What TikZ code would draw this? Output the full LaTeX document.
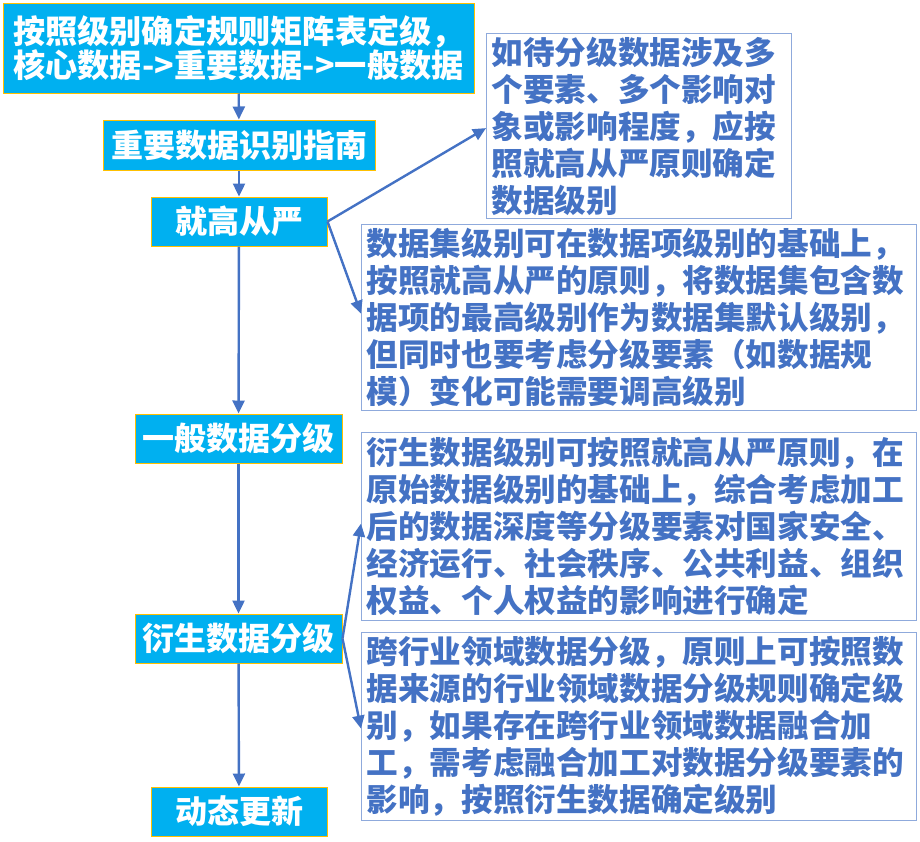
\documentclass[tikz,border=0pt]{standalone}
\usepackage{fontspec}
\setmainfont{Noto Sans CJK SC}
\usetikzlibrary{arrows.meta}
\definecolor{cy}{HTML}{00B0F0}
\definecolor{gold}{HTML}{FFC000}
\definecolor{tb}{HTML}{4472C4}
\definecolor{bd}{HTML}{8FAADC}
\tikzset{
 flowbox/.style={draw=gold, fill=cy, line width=1pt, text=white, font=\fontsize{32}{34}\selectfont\bfseries, inner sep=0pt, align=center},
 notebox/.style={draw=bd, line width=1.2pt, text=tb, font=\fontsize{31.6}{37}\selectfont\bfseries, inner xsep=5pt, inner ysep=0pt, align=left, anchor=north west},
 arr/.style={draw=tb, line width=2.4pt, -{Triangle[length=13pt,width=12pt]}},
}
\begin{document}
\begin{tikzpicture}[x=1pt,y=-1pt]
\useasboundingbox (0,0) rectangle (920,841);
\node[flowbox, font=\fontsize{32.2}{34}\selectfont\bfseries, minimum width=471pt, minimum height=90pt] (b1) at (238.5,48) {按照级别确定规则矩阵表定级，\\核心数据->重要数据->一般数据};
\node[flowbox, minimum width=272pt, minimum height=50pt] (b2) at (239,145) {重要数据识别指南};
\node[flowbox, minimum width=176pt, minimum height=49pt] (b3) at (239,221.5) {就高从严};
\node[flowbox, minimum width=207pt, minimum height=49pt] (b4) at (238.5,438.5) {一般数据分级};
\node[flowbox, minimum width=207pt, minimum height=49pt] (b5) at (238.5,638.5) {衍生数据分级};
\node[flowbox, minimum width=176pt, minimum height=49pt] (b6) at (239,811.5) {动态更新};

\node[notebox, minimum width=305pt, minimum height=185pt, text width=295pt] (t1) at (486,33) {如待分级数据涉及多\\个要素、多个影响对\\象或影响程度，应按\\照就高从严原则确定\\数据级别};
\node[notebox, minimum width=555pt, minimum height=186pt, text width=545pt] (t2) at (361,224) {数据集级别可在数据项级别的基础上，\\按照就高从严的原则，将数据集包含数\\据项的最高级别作为数据集默认级别，\\但同时也要考虑分级要素（如数据规\\模）变化可能需要调高级别};
\node[notebox, minimum width=555pt, minimum height=188pt, text width=545pt] (t3) at (361,432) {衍生数据级别可按照就高从严原则，在\\原始数据级别的基础上，综合考虑加工\\后的数据深度等分级要素对国家安全、\\经济运行、社会秩序、公共利益、组织\\权益、个人权益的影响进行确定};
\node[notebox, minimum width=555pt, minimum height=188pt, text width=545pt] (t4) at (361,632) {跨行业领域数据分级，原则上可按照数\\据来源的行业领域数据分级规则确定级\\别，如果存在跨行业领域数据融合加\\工，需考虑融合加工对数据分级要素的\\影响，按照衍生数据确定级别};

\draw[arr] (b1) -- (b2);
\draw[arr] (b2) -- (b3);
\draw[arr] (b3) -- (b4);
\draw[arr] (b4) -- (b5);
\draw[arr] (b5) -- (b6);
\draw[arr] (b3.east) -- ([yshift=-2pt]t1.west);
\draw[arr] (b3.east) -- ([yshift=4pt]t2.west);
\draw[arr] (b5.east) -- ([yshift=3pt]t3.west);
\draw[arr] (b5.east) -- ([yshift=-2pt]t4.west);
\end{tikzpicture}
\end{document}
